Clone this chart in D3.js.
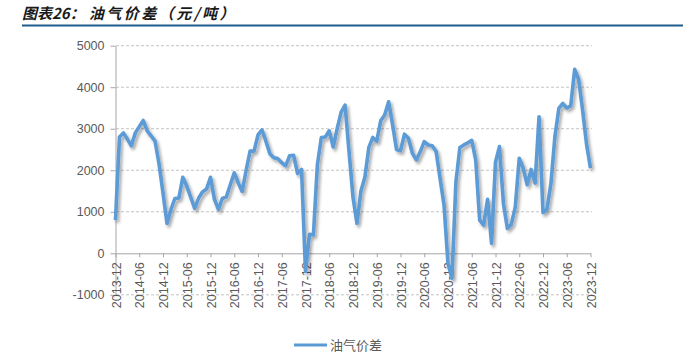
<!DOCTYPE html>
<html>
<head>
<meta charset="utf-8">
<script src="https://cdn.jsdelivr.net/npm/d3@7"></script>
<style>
  body { margin: 0; background: #fff; }
  svg { display: block; }
  .axis text { font-family: "Liberation Sans", Arial, sans-serif; font-size: 12.5px; fill: #595959; }
  .axis path, .axis line { stroke: #a6a6a6; }
</style>
</head>
<body>
<svg></svg>
<script>
const width = 687;
const height = 363;

/* monthly series, 2013-12 .. 2023-12 */
const startYear = 2013;
const startMonth = 12;
const spreadValues = [
  800, 2800, 2900, 2750, 2590, 2900, 3050, 3200, 2950, 2830, 2700, 2150,
  1450, 720, 1050, 1320, 1330, 1830, 1620, 1350, 1080, 1330, 1480, 1550,
  1830, 1300, 1060, 1320, 1360, 1650, 1940, 1700, 1490, 2000, 2460, 2460,
  2850, 2970, 2700, 2400, 2300, 2280, 2180, 2110, 2350, 2360, 1920, 2020,
  -440, 460, 440, 2130, 2790, 2800, 2950, 2560, 3000, 3400, 3570, 2450,
  1350, 720, 1500, 1830, 2550, 2790, 2700, 3190, 3330, 3650, 3100, 2500,
  2470, 2870, 2770, 2410, 2250, 2450, 2690, 2610, 2590, 2450, 1800, 1160,
  -250, -600, 1720, 2550, 2610, 2660, 2720, 2250, 800, 680, 1300, 240,
  2200, 2570, 1200, 600, 700, 1120, 2290, 2050, 1650, 2020, 1690, 3290,
  980, 1060, 1680, 2800, 3490, 3610, 3500, 3550, 4430, 4190, 3450, 2630,
  2050
];
const months = spreadValues.map((v, i) => {
  const m = startMonth - 1 + i;
  const y = startYear + Math.floor(m / 12);
  return `${y}-${String(m % 12 + 1).padStart(2, '0')}`;
});
const xTickLabels = months.filter((d, i) => i % 6 === 0);
const yTicks = [-1000, 0, 1000, 2000, 3000, 4000, 5000];
const seriesName = '油气价差';

const svg = d3.select('svg')
  .attr('width', width)
  .attr('height', height);

/* drop shadow for the line */
const defs = svg.append('defs');
defs.append('filter')
  .attr('id', 'shadow')
  .attr('x', '-10%').attr('y', '-10%')
  .attr('width', '120%').attr('height', '120%')
  .append('feDropShadow')
    .attr('dx', 2).attr('dy', 2.5)
    .attr('stdDeviation', 1.4)
    .attr('flood-color', '#000')
    .attr('flood-opacity', 0.35);

/* title */
const title = svg.append('text')
  .attr('x', 22)
  .attr('y', 19)
  .style('font-family', '"Noto Sans CJK SC", sans-serif')
  .style('font-weight', 'bold')
  .style('font-style', 'italic')
  .style('font-size', '15px')
  .style('fill', '#1a1a1a');
title.append('tspan').text('图表26：');
title.append('tspan').attr('dx', 4).style('letter-spacing', '2.5px').text('油气价差（元/吨）');

svg.append('line')
  .attr('x1', 22).attr('x2', 683)
  .attr('y1', 25.5).attr('y2', 25.5)
  .attr('stroke', '#1f5c8b')
  .attr('stroke-width', 2);

/* scales */
const x = d3.scalePoint()
  .domain(months)
  .range([115.5, 590.5]);

const y = d3.scaleLinear()
  .domain([-1000, 5000])
  .range([294.8, 45.7]);

/* grid */
svg.append('g')
  .selectAll('line')
  .data(yTicks.filter(d => d !== 0))
  .join('line')
    .attr('x1', 116).attr('x2', 592)
    .attr('y1', d => y(d)).attr('y2', d => y(d))
    .attr('stroke', '#c4c4c4')
    .attr('stroke-dasharray', '3,2');

/* y axis */
svg.append('g')
  .classed('axis', true)
  .attr('transform', `translate(${x.range()[0]},0)`)
  .call(d3.axisLeft(y)
    .tickValues(yTicks)
    .tickFormat(d => String(d))
    .tickSize(5).tickPadding(6).tickSizeOuter(0))
  .call(g => g.select('.domain').attr('stroke', '#a6a6a6'));

/* x axis at zero */
const xAxis = svg.append('g')
  .classed('axis', true)
  .attr('transform', `translate(0,${y(0)})`)
  .call(d3.axisBottom(x).tickValues(xTickLabels).tickSize(4).tickSizeOuter(0));

xAxis.selectAll('text')
  .attr('transform', 'rotate(-90)')
  .attr('x', -9)
  .attr('y', 0)
  .attr('dy', '0.36em')
  .style('text-anchor', 'end');

/* line */
const line = d3.line()
  .x((d, i) => x(months[i]))
  .y(d => y(d));

svg.append('path')
  .datum(spreadValues)
  .attr('d', line)
  .attr('fill', 'none')
  .attr('stroke', '#5b9bd5')
  .attr('stroke-width', 3.6)
  .attr('stroke-linejoin', 'round')
  .attr('filter', 'url(#shadow)');

/* legend */
const legend = svg.append('g').attr('transform', 'translate(294,345)');
legend.append('line')
  .attr('x1', 0).attr('x2', 33)
  .attr('stroke', '#5b9bd5')
  .attr('stroke-width', 3.2);
legend.append('text')
  .attr('x', 36)
  .attr('y', 5)
  .style('font-family', '"Noto Sans CJK SC", sans-serif')
  .style('font-size', '13px')
  .style('fill', '#595959')
  .text(seriesName);
</script>
</body>
</html>
